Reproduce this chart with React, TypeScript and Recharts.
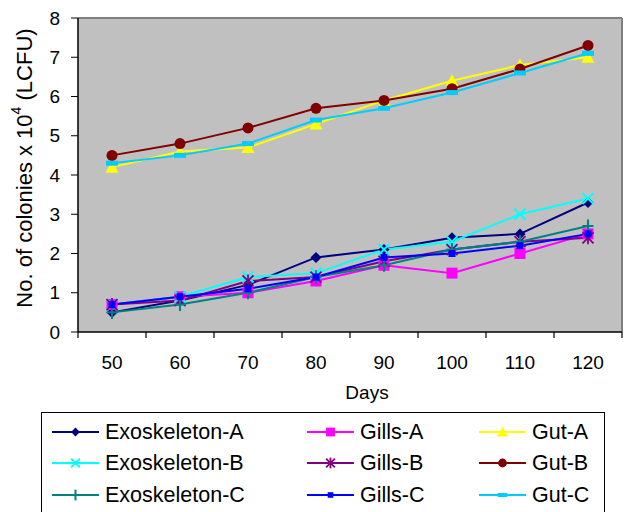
import { LineChart, Line, XAxis, YAxis, CartesianGrid, ReferenceLine } from 'recharts';

const days = [50, 60, 70, 80, 90, 100, 110, 120];

const exoskeletonA = [0.5, 0.8, 1.2, 1.9, 2.1, 2.4, 2.5, 3.3];
const exoskeletonB = [0.7, 0.9, 1.4, 1.5, 2.1, 2.3, 3.0, 3.4];
const exoskeletonC = [0.5, 0.7, 1.0, 1.4, 1.7, 2.1, 2.3, 2.7];
const gillsA = [0.7, 0.9, 1.0, 1.3, 1.7, 1.5, 2.0, 2.5];
const gillsB = [0.7, 0.8, 1.3, 1.4, 1.8, 2.1, 2.3, 2.4];
const gillsC = [0.7, 0.9, 1.1, 1.4, 1.9, 2.0, 2.2, 2.5];
const gutA = [4.2, 4.6, 4.7, 5.3, 5.9, 6.4, 6.8, 7.0];
const gutB = [4.5, 4.8, 5.2, 5.7, 5.9, 6.2, 6.7, 7.3];
const gutC = [4.3, 4.5, 4.8, 5.4, 5.7, 6.1, 6.6, 7.1];

const yTicks = [0, 1, 2, 3, 4, 5, 6, 7, 8];
// labels sit at the day values, tick marks between them
const xTicks = [45, 50, 55, 60, 65, 70, 75, 80, 85, 90, 95, 100, 105, 110, 115, 120, 125];

const FONT = '"Liberation Sans", Arial, sans-serif';

type Shape = 'diamond' | 'square' | 'triangle' | 'x' | 'asterisk' | 'circle' | 'plus' | 'smallSquare' | 'dash';

const series: { key: string; name: string; values: number[]; color: string; shape: Shape }[] = [
  { key: 'exoA', name: 'Exoskeleton-A', values: exoskeletonA, color: '#000080', shape: 'diamond' },
  { key: 'gillsA', name: 'Gills-A', values: gillsA, color: '#FF00FF', shape: 'square' },
  { key: 'gutA', name: 'Gut-A', values: gutA, color: '#FFFF00', shape: 'triangle' },
  { key: 'exoB', name: 'Exoskeleton-B', values: exoskeletonB, color: '#00FFFF', shape: 'x' },
  { key: 'gillsB', name: 'Gills-B', values: gillsB, color: '#800080', shape: 'asterisk' },
  { key: 'gutB', name: 'Gut-B', values: gutB, color: '#800000', shape: 'circle' },
  { key: 'exoC', name: 'Exoskeleton-C', values: exoskeletonC, color: '#008080', shape: 'plus' },
  { key: 'gillsC', name: 'Gills-C', values: gillsC, color: '#0000FF', shape: 'smallSquare' },
  { key: 'gutC', name: 'Gut-C', values: gutC, color: '#00CCFF', shape: 'dash' },
];

const data = days.map((day, i) => {
  const row: Record<string, number> = { day };
  series.forEach((s) => (row[s.key] = s.values[i]));
  return row;
});

function Marker({ shape, color, cx, cy, k = 1 }: { shape: Shape; color: string; cx: number; cy: number; k?: number }) {
  const s = 5.5 * k;
  switch (shape) {
    case 'diamond':
      return <polygon points={`${cx},${cy - s} ${cx + s},${cy} ${cx},${cy + s} ${cx - s},${cy}`} fill={color} />;
    case 'square':
      return <rect x={cx - s} y={cy - s} width={s * 2} height={s * 2} fill={color} />;
    case 'smallSquare':
      return <rect x={cx - 3.5 * k} y={cy - 3.5 * k} width={7 * k} height={7 * k} fill={color} />;
    case 'dash':
      return <rect x={cx - 6 * k} y={cy - 2.5 * k} width={12 * k} height={5 * k} fill={color} />;
    case 'triangle':
      return <polygon points={`${cx},${cy - s - 1} ${cx + s + 1},${cy + s} ${cx - s - 1},${cy + s}`} fill={color} />;
    case 'circle':
      return <circle cx={cx} cy={cy} r={s} fill={color} />;
    case 'x':
      return (
        <g stroke={color} strokeWidth={2}>
          <line x1={cx - s} y1={cy - s} x2={cx + s} y2={cy + s} />
          <line x1={cx - s} y1={cy + s} x2={cx + s} y2={cy - s} />
        </g>
      );
    case 'plus':
      return (
        <g stroke={color} strokeWidth={2}>
          <line x1={cx - s} y1={cy} x2={cx + s} y2={cy} />
          <line x1={cx} y1={cy - s - 1} x2={cx} y2={cy + s + 1} />
        </g>
      );
    case 'asterisk':
      return (
        <g stroke={color} strokeWidth={1.8}>
          <line x1={cx - s} y1={cy - s} x2={cx + s} y2={cy + s} />
          <line x1={cx - s} y1={cy + s} x2={cx + s} y2={cy - s} />
          <line x1={cx} y1={cy - s - 1} x2={cx} y2={cy + s + 1} />
        </g>
      );
  }
  return null;
}

const XTick = (props: any) => {
  const { x, y, payload } = props;
  const v = payload.value;
  if ((v - 45) % 10 === 0) {
    return <line x1={x} y1={y - 6} x2={x} y2={y} stroke="#000" strokeWidth={1.2} />;
  }
  return (
    <text x={x} y={y + 24} textAnchor="middle" dominantBaseline="central" fontSize={19} fill="#000" fontFamily={FONT}>
      {v}
    </text>
  );
};

const legendCols = [52, 307, 479];
const legendRows = [432, 463, 495];

export default function App() {
  return (
    <div style={{ position: 'absolute', left: 0, top: 0, width: 631, height: 512, overflow: 'hidden', background: '#fff', fontFamily: FONT }}>
      <LineChart width={631} height={512} data={data} margin={{ top: 18, right: 9, left: 0, bottom: 0 }}>
        <CartesianGrid fill="#C0C0C0" horizontal={false} vertical={false} />
        <XAxis
          dataKey="day"
          type="number"
          domain={[45, 125]}
          ticks={xTicks}
          interval={0}
          height={180}
          tickSize={6}
          tickMargin={0}
          tickLine={false}
          tick={<XTick />}
          axisLine={{ stroke: '#000', strokeWidth: 1.5 }}
          label={({ viewBox }: any) => (
            <text x={viewBox.x + viewBox.width / 2 + 17} y={viewBox.y + 67} textAnchor="middle" fontSize={19} fill="#000" fontFamily={FONT}>
              Days
            </text>
          )}
        />
        <YAxis
          domain={[0, 8]}
          ticks={yTicks}
          interval={0}
          width={78}
          tickSize={7}
          tickMargin={11}
          tick={{ fontSize: 19, fill: '#000', fontFamily: FONT }}
          tickLine={{ stroke: '#000' }}
          axisLine={{ stroke: '#000', strokeWidth: 1.5 }}
          label={({ viewBox }: any) => {
            const cx = 24;
            const cy = viewBox.y + viewBox.height / 2 - 7;
            return (
              <text
                x={cx}
                y={cy}
                transform={`rotate(-90, ${cx}, ${cy})`}
                textAnchor="middle"
                dominantBaseline="central"
                fontSize={22}
                fill="#000"
                fontFamily={FONT}
              >
                No. of colonies x 10
                <tspan fontSize={14} dy={-8}>4</tspan>
                <tspan dy={8}> (LCFU)</tspan>
              </text>
            );
          }}
        />
        <ReferenceLine y={8} stroke="#808080" strokeWidth={2} />
        <ReferenceLine x={125} stroke="#808080" strokeWidth={2} />
        {series.map((s) => (
          <Line
            key={s.key}
            dataKey={s.key}
            stroke={s.color}
            strokeWidth={2}
            isAnimationActive={false}
            activeDot={false}
            dot={(p: any) => <Marker key={`${s.key}-${p.index}`} shape={s.shape} color={s.color} cx={p.cx} cy={p.cy} />}
          />
        ))}
      </LineChart>

      {/* Legend */}
      <div style={{ position: 'absolute', left: 41, top: 412, width: 562, height: 130, border: '1.5px solid #000' }} />
      {series.map((s, i) => (
        <div
          key={s.key}
          style={{
            position: 'absolute',
            left: legendCols[i % 3],
            top: legendRows[Math.floor(i / 3)] - 15,
            height: 30,
            display: 'flex',
            alignItems: 'center',
            whiteSpace: 'nowrap',
          }}
        >
          <svg width={47} height={30}>
            <line x1={0} y1={15} x2={47} y2={15} stroke={s.color} strokeWidth={2} />
            <Marker shape={s.shape} color={s.color} cx={23.5} cy={15} k={0.8} />
          </svg>
          <span style={{ marginLeft: 6, fontSize: 21.5, lineHeight: '30px', color: '#000' }}>{s.name}</span>
        </div>
      ))}
    </div>
  );
}
